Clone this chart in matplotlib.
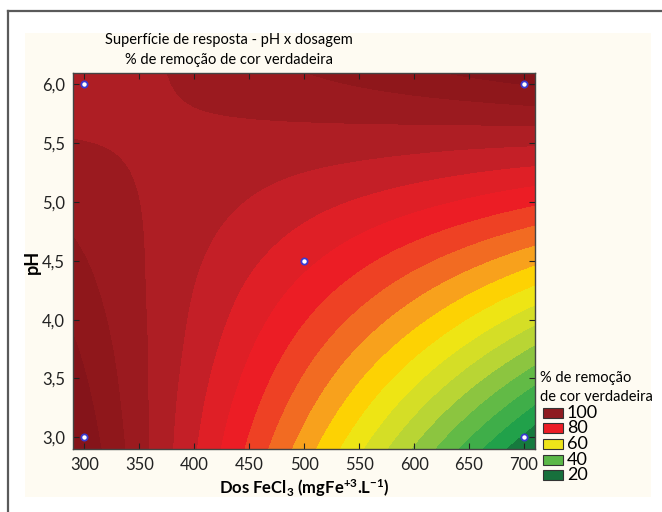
import matplotlib
matplotlib.use("Agg")
import matplotlib.pyplot as plt
import matplotlib.tri as mtri
from matplotlib.patches import Rectangle
from matplotlib.lines import Line2D
import numpy as np

# dose of FeCl3 (columns) and pH (rows) of the read-off grid
dose = [290, 360, 430, 500, 570, 640, 710]
ph = [2.9, 3.3, 3.7, 4.1, 4.5, 4.9, 5.3, 5.7, 6.1]
# % removal of true colour, estimated from the bands of the surface
removal = [
    [110.8, 94.7, 78.5, 62.3, 46.2, 30.0, 13.8],
    [108.4, 94.6, 80.8, 67.0, 53.2, 39.4, 25.6],
    [106.0, 94.6, 83.2, 71.7, 60.3, 48.9, 37.4],
    [103.6, 94.5, 85.5, 76.4, 67.4, 58.3, 49.2],
    [101.2, 94.5, 87.8, 81.1, 74.4, 67.7, 61.0],
    [98.8, 94.5, 90.2, 85.8, 81.5, 77.2, 72.8],
    [96.4, 94.4, 92.5, 90.5, 88.6, 86.6, 84.7],
    [94.0, 94.4, 94.8, 95.2, 95.6, 96.0, 96.5],
    [91.6, 94.4, 97.1, 99.9, 102.7, 105.5, 108.3],
]

# experimental design points
pts_dose = [300, 300, 700, 700, 500]
pts_ph = [3.0, 6.0, 3.0, 6.0, 4.5]

levels = [0, 20, 25, 30, 35, 40, 45, 50, 55, 60, 65, 70, 75, 80, 85, 90, 95, 100, 105, 130]
band_colors = [
    "#167A3E", "#21A14A", "#3FAE49", "#62BA46", "#8CC540", "#B9D534",
    "#D5DE26", "#EEE514", "#FDD203", "#F8A11C", "#F26B22", "#EE4124",
    "#EC1D25", "#DF1F26", "#C41F27", "#AE1E24", "#9B1A1F", "#8F171B", "#85141A",
]

leg_labels = ["100", "80", "60", "40", "20"]
leg_colors = ["#8E1B20", "#EC1D25", "#EEE419", "#5BB848", "#17703C"]

W, H = 662, 512


def fx(p):
    return p / W


def fy(p):
    return 1 - p / H


plt.rcParams["font.family"] = ["Lato", "DejaVu Sans"]
plt.rcParams["mathtext.default"] = "regular"

fig = plt.figure(figsize=(W / 100, H / 100), dpi=100)
fig.patch.set_facecolor("white")

# cream panel and the frame line
fig.add_artist(Rectangle((fx(25), fy(497)), fx(651) - fx(25), fy(33) - fy(497),
                         facecolor="#FEFBF2", edgecolor="none", zorder=-5))
fig.add_artist(Line2D([fx(8), 1], [fy(11), fy(11)], color="#5a5a5a", lw=1.6))
fig.add_artist(Line2D([fx(8), fx(8)], [fy(11), 0], color="#5a5a5a", lw=1.6))

ax = fig.add_axes([fx(73.3), fy(449), fx(535) - fx(73.3), fy(72.7) - fy(449)])

X, Y = np.meshgrid(dose, ph)
Z = np.array(removal)
# triangulate in coded units so the smoothing is not distorted by the scales
tri = mtri.Triangulation(((X - 500) / 200).ravel(), ((Y - 4.5) / 1.5).ravel())
refiner = mtri.UniformTriRefiner(tri)
tri_r, z_r = refiner.refine_field(Z.ravel(), subdiv=4)
tri_plot = mtri.Triangulation(tri_r.x * 200 + 500, tri_r.y * 1.5 + 4.5, tri_r.triangles)
ax.tricontourf(tri_plot, z_r, levels=levels, colors=band_colors, antialiased=False)

ax.plot(pts_dose, pts_ph, "o", ms=4.5, mfc="white", mec="#3a3ad0", mew=1.3, zorder=5)

ax.set_xlim(290, 710)
ax.set_ylim(2.9, 6.1)
ax.set_xticks(range(300, 701, 50))
yt = [3.0, 3.5, 4.0, 4.5, 5.0, 5.5, 6.0]
ax.set_yticks(yt)
ax.set_yticklabels([f"{v:.1f}".replace(".", ",") for v in yt])
ax.tick_params(direction="in", top=True, right=True, length=4, width=0.8,
               labelsize=12, pad=6, colors="#222222")
for s in ax.spines.values():
    s.set_color("#444444")
    s.set_linewidth(1.0)

fig.text(fx(229), fy(40), "Superfície de resposta - pH x dosagem", ha="center", va="center", fontsize=10.5)
fig.text(fx(229), fy(60), "% de remoção de cor verdadeira", ha="center", va="center", fontsize=10.5)

fig.text(fx(304), fy(488), r"Dos FeCl$_3$ (mgFe$^{+3}$.L$^{-1}$)", ha="center", va="center",
         fontsize=12, fontweight="bold")
fig.text(fx(32), fy(262), "pH", ha="center", va="center", rotation=90,
         fontsize=13, fontweight="bold")

# legend
fig.text(fx(540), fy(378), "% de remoção", ha="left", va="center", fontsize=10.5)
fig.text(fx(540), fy(397), "de cor verdadeira", ha="left", va="center", fontsize=10.5)
leg_y = [413, 428, 444, 460, 475]
for lab, col, yy in zip(leg_labels, leg_colors, leg_y):
    fig.add_artist(Rectangle((fx(543), fy(yy + 5)), fx(20), fy(0) - fy(10),
                             facecolor=col, edgecolor="#333333", lw=0.8))
    fig.text(fx(567), fy(yy), lab, ha="left", va="center", fontsize=13)

fig.savefig("out.png", dpi=100)
